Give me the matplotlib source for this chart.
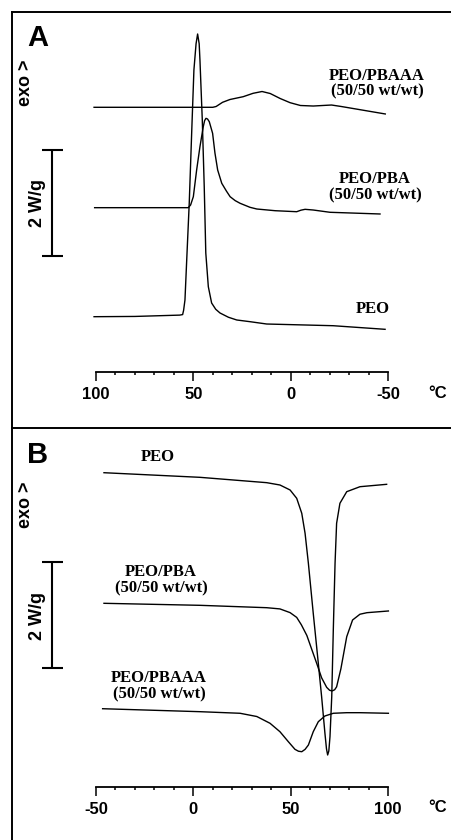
import matplotlib
matplotlib.use("Agg")
import matplotlib.pyplot as plt
from matplotlib.lines import Line2D

# ---------------- data ----------------
# Panel A (cooling): temperature (°C) and heat flow (W/g, vertically offset)
A_peo_T = [101, 80, 57, 55.5, 55.0, 54.3, 53.4, 52.1, 50.8, 49.7, 48.6, 47.8, 47.0, 46.6,
           45.4, 44.4, 43.6, 42.3, 40.6, 38.5, 36.3, 32, 27.7, 20.9, 12.3, -21.8, -48.5]
A_peo_Q = [2.100, 2.105, 2.13, 2.14, 2.22, 2.415, 3.170, 4.245, 5.623, 6.755, 7.25, 7.434, 7.25,
           6.943, 5.811, 4.553, 3.302, 2.666, 2.358, 2.24, 2.170, 2.09, 2.038, 2.006, 1.962, 1.930, 1.862]

A_pba_T = [100.7, 52.6, 51.4, 50.0, 48.3, 46.6, 44.9, 44.2, 43.5, 42.7, 41.8, 40.1, 38.9, 37.5, 35.4,
           33.0, 31.1, 28.5, 26.0, 20.9, 17.4, 8.0, -3.1, -5.3, -7.4, -11.6, -20.2, -45.9]
A_pba_Q = [4.157, 4.157, 4.208, 4.364, 4.868, 5.308, 5.685, 5.80, 5.843, 5.83, 5.779, 5.560, 5.189, 4.868, 4.617,
           4.47, 4.364, 4.29, 4.240, 4.164, 4.132, 4.10, 4.081, 4.11, 4.126, 4.113, 4.070, 4.038]

A_pbaaa_T = [101, 40, 38.3, 35.0, 31.2, 24.4, 19.3, 14.7, 10.5, 5.4, 0.3, -5.0, -11.6,
             -18.4, -21.0, -26.0, -30.5, -48.6]
A_pbaaa_Q = [6.051, 6.051, 6.066, 6.145, 6.198, 6.251, 6.315, 6.349, 6.311, 6.217, 6.138, 6.085, 6.075,
             6.089, 6.094, 6.066, 6.038, 5.925]

# Panel B (heating)
B_peo_T = [-45.9, 3.4, 37.7, 44.5, 49.7, 53.1, 55.7, 57.4, 59.1, 61.6, 64.2, 65.9, 67.6, 68.4, 69.0,
           69.6, 70.2, 71.1, 71.9, 72.8, 73.6, 75.3, 78.8, 85.6, 99.3]
B_peo_Q = [6.930, 6.843, 6.742, 6.698, 6.604, 6.447, 6.164, 5.787, 5.221, 4.277, 3.334, 2.704, 2.013, 1.72, 1.604,
           1.68, 1.949, 2.704, 3.962, 5.221, 5.975, 6.353, 6.572, 6.666, 6.711]

B_pba_T = [-45.9, 3.4, 37.7, 44.5, 49.7, 53.1, 55.5, 58.3, 60.8, 63.4, 65.9, 68.5, 70.0, 71.3, 72.6, 73.6,
           75.8, 78.8, 81.8, 85.6, 89.2, 100.2]
B_pba_Q = [4.466, 4.428, 4.383, 4.36, 4.29, 4.2, 4.06, 3.86, 3.6, 3.33, 3.06, 2.88, 2.825, 2.812, 2.835, 2.89,
           3.23, 3.836, 4.151, 4.26, 4.289, 4.321]

B_pbaaa_T = [-46.6, 3.4, 24.0, 32.6, 39.4, 44.5, 48.8, 52.2, 54.0, 55.7, 57.4, 59.1, 61.6, 64.2, 67.6, 71.9,
             78.8, 85.6, 100.2]
B_pbaaa_Q = [2.477, 2.421, 2.391, 2.330, 2.202, 2.043, 1.855, 1.711, 1.675, 1.666, 1.71, 1.792, 2.043, 2.232, 2.340, 2.391,
             2.402, 2.402, 2.391]

A_ticks = [100, 50, 0, -50]
B_ticks = [-50, 0, 50, 100]
A_tick_labels = ["100", "50", "0", "-50"]
B_tick_labels = ["-50", "0", "50", "100"]
scale_bar_value = 2  # W/g
labels_A = ["PEO/PBAAA\n(50/50 wt/wt)", "PEO/PBA\n(50/50 wt/wt)", "PEO"]
labels_B = ["PEO", "PEO/PBA\n(50/50 wt/wt)", "PEO/PBAAA\n(50/50 wt/wt)"]

# ---------------- layout ----------------
W, H = 451, 840
fig = plt.figure(figsize=(W / 100, H / 100), dpi=100)

def fx(px):
    return px / W

def fy(py):
    return 1 - py / H

PX_PER_DEG = 292 / 150.0
PX_PER_WG = 53.0
SANS = "Liberation Sans"
SERIF = "Liberation Serif"


def make_panel(top, bottom, x_left_val, x_left_px, inverted, axis_px):
    ax = fig.add_axes([fx(12), fy(bottom), fx(451) - fx(12), (bottom - top) / H])
    if inverted:
        lo = x_left_val + (x_left_px - 12) / PX_PER_DEG
        hi = x_left_val - 150 - (451 - (x_left_px + 292)) / PX_PER_DEG
    else:
        lo = x_left_val - (x_left_px - 12) / PX_PER_DEG
        hi = x_left_val + 150 + (451 - (x_left_px + 292)) / PX_PER_DEG
    ax.set_xlim(lo, hi)
    ax.set_ylim(0, (bottom - top) / PX_PER_WG)
    for s in ["top", "left", "right"]:
        ax.spines[s].set_visible(False)
    ax.spines["bottom"].set_position(("data", (bottom - axis_px) / PX_PER_WG))
    ax.spines["bottom"].set_bounds(-50, 100)
    ax.spines["bottom"].set_linewidth(1.3)
    ax.set_yticks([])
    ax.patch.set_alpha(0)
    return ax


axA = make_panel(12, 428, 100, 96, True, 372)
axB = make_panel(428, 840, -50, 96, False, 787)

for ax, ticks, tl in [(axA, A_ticks, A_tick_labels), (axB, B_ticks, B_tick_labels)]:
    ax.set_xticks(ticks)
    ax.set_xticklabels(tl, fontfamily=SANS, fontweight="bold", fontsize=12)
    ax.set_xticks(list(range(-50, 101, 10)), minor=True)
    ax.tick_params(axis="x", which="major", direction="out", length=6.5, width=1.1, pad=4)
    ax.tick_params(axis="x", which="minor", direction="out", length=2.5, width=1.1)

lw = 1.0
for ax, T, Q in [(axA, A_peo_T, A_peo_Q), (axA, A_pba_T, A_pba_Q), (axA, A_pbaaa_T, A_pbaaa_Q),
                 (axB, B_peo_T, B_peo_Q), (axB, B_pba_T, B_pba_Q), (axB, B_pbaaa_T, B_pbaaa_Q)]:
    ax.plot(T, Q, color="black", lw=lw, solid_joinstyle="round")


def scale_bar(ax, x_val, bottom_val):
    ax.plot([x_val, x_val], [bottom_val, bottom_val + scale_bar_value], color="black", lw=1.5,
            solid_capstyle="butt")
    half = 10.5 / PX_PER_DEG
    for yv in [bottom_val, bottom_val + scale_bar_value]:
        ax.plot([x_val - half, x_val + half], [yv, yv], color="black", lw=1.5, solid_capstyle="butt")


scale_bar(axA, 100 + (96 - 52) / PX_PER_DEG, (428 - 256) / PX_PER_WG)
scale_bar(axB, -50 - (96 - 52) / PX_PER_DEG, (840 - 667.7) / PX_PER_WG)

# frame lines
for (x0, y0, x1, y1) in [(12, 12, 12, 840), (12, 12, 451, 12), (12, 428, 451, 428)]:
    fig.add_artist(Line2D([fx(x0), fx(x1)], [fy(y0), fy(y1)], transform=fig.transFigure,
                          color="black", lw=1.4))

# panel texts
for letter, (px, py) in [("A", (38, 38)), ("B", (38, 455))]:
    fig.text(fx(px), fy(py), letter, fontfamily=SANS, fontweight="bold", fontsize=21,
             ha="center", va="center")
for py in [83, 505]:
    fig.text(fx(26), fy(py), "exo >", fontfamily=SANS, fontweight="bold", fontsize=13,
             rotation=90, ha="center", va="center")
for py in [203, 616]:
    fig.text(fx(37), fy(py), f"{scale_bar_value} W/g", fontfamily=SANS, fontweight="bold", fontsize=13,
             rotation=90, ha="center", va="center")
for py in [394, 808]:
    fig.text(fx(437.5), fy(py), "°C", fontfamily=SANS, fontweight="bold", fontsize=12,
             ha="center", va="center")

# curve labels
posA = [(377, 83.5), (375, 187), (372.5, 309)]
posB = [(158, 457), (161, 580), (159, 686)]
for txt, (px, py) in zip(labels_A + labels_B, posA + posB):
    fig.text(fx(px), fy(py), txt, fontfamily=SERIF, fontweight="bold", fontsize=12,
             ha="center", va="center", linespacing=1.0)

fig.savefig("out.png", dpi=100)
